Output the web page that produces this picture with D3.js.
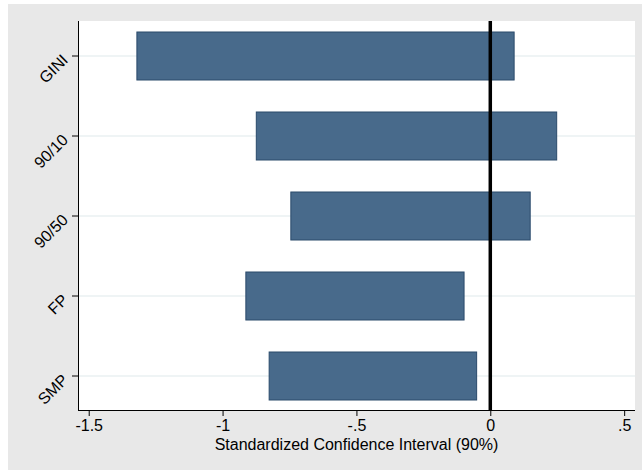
<!DOCTYPE html>
<html><head><meta charset="utf-8">
<script src="https://cdn.jsdelivr.net/npm/d3@7"></script>
<style>body{margin:0;background:#fff}svg{display:block}text{font-family:"Liberation Sans",Arial,sans-serif}</style>
</head><body><svg id="c" width="642" height="470"></svg>
<script>
const categories = ["GINI","90/10","90/50","FP","SMP"];
const lower = [-1.32, -0.874, -0.745, -0.913, -0.826];
const upper = [0.089, 0.248, 0.149, -0.098, -0.051];
const xTicks = [-1.5, -1, -0.5, 0, 0.5];
const xTickLabels = ["-1.5", "-1", "-.5", "0", ".5"];
const xTitle = "Standardized Confidence Interval (90%)";

const FS = 16;
const svg = d3.select("#c");
svg.append("rect").attr("x",8).attr("y",4).attr("width",634).attr("height",466).attr("fill","#e8e8e8");
const L=78, R=635, T=21, B=410;
svg.append("rect").attr("x",L).attr("y",T).attr("width",R-L).attr("height",B-T).attr("fill","#fff");

const x = d3.scaleLinear().domain([-1.54, 0.5405]).range([L, R]);
const y = d3.scaleLinear().domain([1-0.4375, 5+0.425]).range([T, B]);
const pos = i => y(i+1);

// gridlines
svg.append("g").selectAll("line").data(categories).join("line")
  .attr("x1",L).attr("x2",R).attr("y1",(d,i)=>pos(i)).attr("y2",(d,i)=>pos(i))
  .attr("stroke","#eaf0f2").attr("stroke-width",1.5);

// bars
const half = 0.3;
svg.append("g").selectAll("rect").data(categories).join("rect")
  .attr("x",(d,i)=>x(lower[i])).attr("width",(d,i)=>x(upper[i])-x(lower[i]))
  .attr("y",(d,i)=>y(i+1-half)).attr("height",(d,i)=>y(i+1+half)-y(i+1-half))
  .attr("fill","#486a8b").attr("stroke","#2a4a6b").attr("stroke-width",1);

// zero line
svg.append("line").attr("x1",x(0)).attr("x2",x(0)).attr("y1",T).attr("y2",B)
  .attr("stroke","#000").attr("stroke-width",3.5);

// x axis
const xa = svg.append("g").attr("transform",`translate(0,${B})`)
  .call(d3.axisBottom(x).tickValues(xTicks).tickFormat((d,i)=>xTickLabels[i]).tickSizeOuter(0).tickSize(6).tickPadding(4));
xa.attr("font-size",FS);
xa.select(".domain").attr("d",`M${L},0.5H${R}`).attr("stroke","#000");
xa.selectAll("text").attr("font-size",FS).attr("fill","#000");
svg.append("text").attr("x",(L+R)/2).attr("y",450).attr("text-anchor","middle")
  .attr("font-size",FS).text(xTitle);

// y axis
const ya = svg.append("g").attr("transform",`translate(${L},0)`);
ya.append("line").attr("x1",0.5).attr("x2",0.5).attr("y1",T).attr("y2",B+0.5).attr("stroke","#000");
const yt = ya.selectAll("g.t").data(categories).join("g").attr("class","t")
  .attr("transform",(d,i)=>`translate(0,${pos(i)})`);
yt.append("line").attr("x1",-6).attr("x2",0).attr("stroke","#000");
yt.append("text").attr("transform","translate(-9,5) rotate(-45)").attr("text-anchor","end")
  .attr("font-size",FS).attr("fill","#000").text(d=>d);
</script></body></html>
